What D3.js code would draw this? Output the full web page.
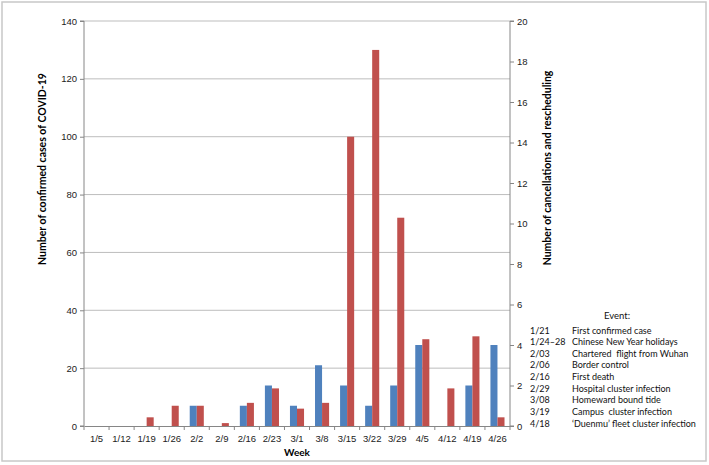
<!DOCTYPE html>
<html>
<head>
<meta charset="utf-8">
<script src="https://cdn.jsdelivr.net/npm/d3@7"></script>
<style>
  body { margin: 0; background: #fff; }
  svg { font-family: Lato, "Open Sans", sans-serif; }
  .tick text { fill: #222; }
  text { white-space: pre; }
</style>
</head>
<body>
<svg id="chart" width="709" height="465"></svg>
<script>
// weeks on the x axis
var weeks = ["1/5","1/12","1/19","1/26","2/2","2/9","2/16","2/23","3/1","3/8","3/15","3/22","3/29","4/5","4/12","4/19","4/26"];
// blue bars, right axis
var cancellations = [0,0,0,0,1,0,1,2,1,3,2,1,2,4,0,2,4];
// red bars, left axis
var confirmed = [0,0,3,7,7,1,8,13,6,8,100,130,72,30,13,31,3];

var leftTicks = [0,20,40,60,80,100,120,140];
var rightTicks = [0,2,4,6,8,10,12,14,16,18,20];

var eventDates = ["1/21","1/24\u201328","2/03","2/06","2/16","2/29","3/08","3/19","4/18"];
var eventNames = ["First confirmed case","Chinese New Year holidays","Chartered  flight from Wuhan","Border control","First death","Hospital cluster infection","Homeward bound tide","Campus  cluster infection","\u2018Duenmu\u2019 fleet cluster infection"];

var blue = "#4f81bd", red = "#c0504d";
var plotLeft = 84, plotRight = 510, plotTop = 21, plotBottom = 426;

var svg = d3.select("#chart");

// frame
svg.append("rect")
  .attr("x", 2).attr("y", 2).attr("width", 704).attr("height", 459)
  .attr("fill", "none").attr("stroke", "#c8c8c8").attr("stroke-width", 1.5);

var x = d3.scaleBand().domain(weeks).range([plotLeft, plotRight]);
var inner = d3.scaleBand().domain(["c","r"]).range([0, x.bandwidth()]).paddingOuter(0.78);
var yL = d3.scaleLinear().domain([0, 140]).range([plotBottom, plotTop]);
var yR = d3.scaleLinear().domain([0, 20]).range([plotBottom, plotTop]);

// gridlines
svg.append("g").selectAll("line")
  .data(leftTicks.slice(1)).enter()
  .append("line")
  .attr("x1", plotLeft).attr("x2", plotRight)
  .attr("y1", d => yL(d)).attr("y2", d => yL(d))
  .attr("stroke", "#bdbdbd").attr("stroke-width", 1);

// bars
var groups = svg.append("g").selectAll("g")
  .data(weeks).enter()
  .append("g")
  .attr("transform", d => `translate(${x(d)},0)`);

groups.append("rect")
  .attr("x", inner("c"))
  .attr("width", inner.bandwidth())
  .attr("y", (d, i) => yR(cancellations[i]))
  .attr("height", (d, i) => plotBottom - yR(cancellations[i]))
  .attr("fill", blue);

groups.append("rect")
  .attr("x", inner("r"))
  .attr("width", inner.bandwidth())
  .attr("y", (d, i) => yL(confirmed[i]))
  .attr("height", (d, i) => plotBottom - yL(confirmed[i]))
  .attr("fill", red);

// axes
var axisColor = "#868686";

var gl = svg.append("g")
  .attr("transform", `translate(${plotLeft},0)`)
  .call(d3.axisLeft(yL).tickValues(leftTicks).tickSize(4).tickPadding(3));
gl.selectAll("text").style("font-size", "9.5px");

var gr = svg.append("g")
  .attr("transform", `translate(${plotRight},0)`)
  .call(d3.axisRight(yR).tickValues(rightTicks).tickSize(4).tickPadding(3));
gr.selectAll("text").style("font-size", "9.5px");

var gx = svg.append("g")
  .attr("transform", `translate(0,${plotBottom})`)
  .call(d3.axisBottom(x).tickSize(0).tickPadding(9));
gx.selectAll("text").style("font-size", "9.5px");
gx.append("g").selectAll("line")
  .data(weeks.concat([null])).enter()
  .append("line")
  .attr("x1", (d, i) => plotLeft + i * x.bandwidth())
  .attr("x2", (d, i) => plotLeft + i * x.bandwidth())
  .attr("y1", 0).attr("y2", 4)
  .attr("stroke", axisColor);

[gl, gr, gx].forEach(g => {
  g.select(".domain").attr("stroke", axisColor);
  g.selectAll(".tick line").attr("stroke", axisColor);
});
gl.select(".domain").attr("d", `M-4,${plotTop}H0V${plotBottom}H-4`);
gr.select(".domain").attr("d", `M4,${plotTop}H0V${plotBottom}H4`);

// titles
svg.append("text")
  .attr("transform", "translate(46,169) rotate(-90)")
  .attr("text-anchor", "middle")
  .style("font-size", "10.5px").style("font-weight", "bold")
  .text("Number of confirmed cases of COVID-19");

svg.append("text")
  .attr("transform", "translate(551,168) rotate(-90)")
  .attr("text-anchor", "middle")
  .style("font-size", "10.5px").style("font-weight", "bold")
  .text("Number of cancellations and rescheduling");

svg.append("text")
  .attr("x", (plotLeft + plotRight) / 2).attr("y", 456)
  .attr("text-anchor", "middle")
  .style("font-size", "10px").style("font-weight", "bold")
  .text("Week");

// event list
var ev = svg.append("g").style("font-size", "9px").attr("fill", "#111");
ev.append("text").attr("x", 617).attr("y", 319).attr("text-anchor", "middle").style("font-size", "9.5px").text("Event:");
ev.selectAll(".d").data(eventDates).enter()
  .append("text").attr("class", "d")
  .attr("x", 530).attr("y", (d, i) => 333.5 + i * 11.66)
  .text(d => d);
ev.selectAll(".n").data(eventNames).enter()
  .append("text").attr("class", "n")
  .attr("x", 572).attr("y", (d, i) => 333.5 + i * 11.66)
  .text(d => d);
</script>
</body>
</html>
